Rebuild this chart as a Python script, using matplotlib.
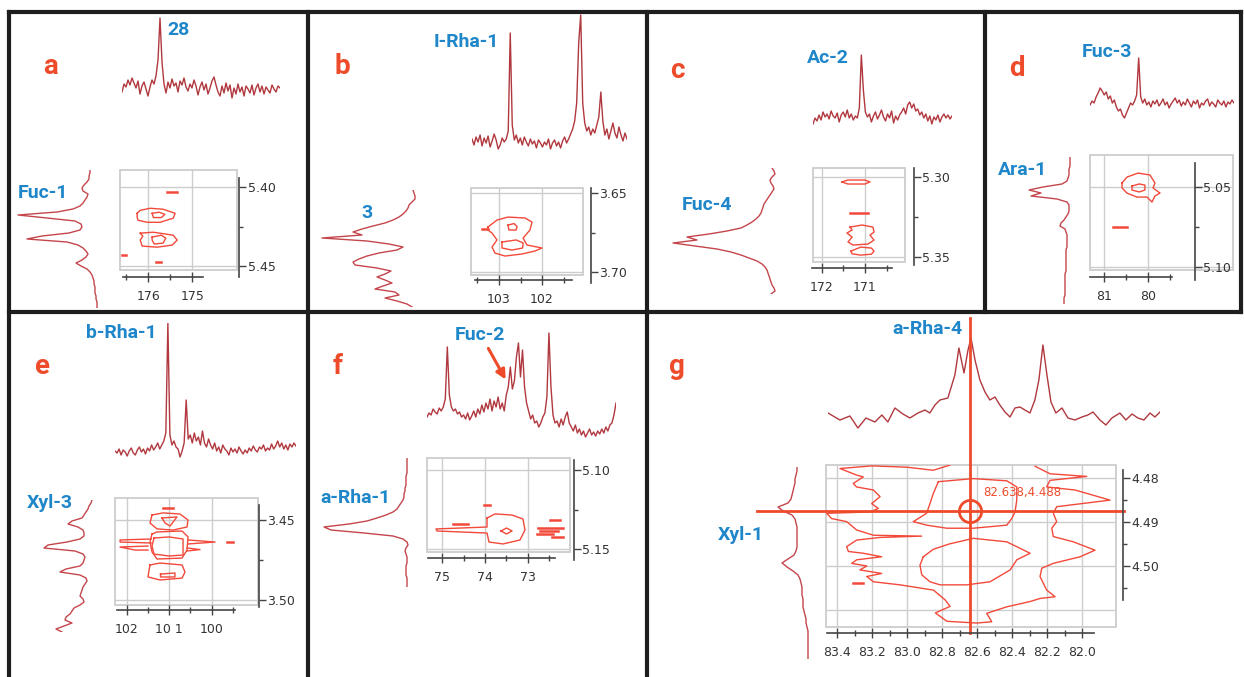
import numpy as np
import matplotlib
matplotlib.use('Agg')
import matplotlib.pyplot as plt
from matplotlib.ticker import FixedLocator, FormatStrFormatter

W, H = 1244, 677
RED = '#ee4b2b'
BLUE = '#1f87c9'
TRACE = '#b0383e'
SIDE = '#c4464c'
CONT = '#f2493a'
GRID = '#cdcdcd'
AXC = '#444444'

# ---------------- 13C projections (top traces), intensity above baseline ----------------
a_top = [-2, 6, 3, 10, 5, 12, 7, 2, 9, -4, 4, 8, 1, -6, 3, 10, 6, 14, 30, 72, 28, 6, -3, 8, 2,
         11, 4, 7, -2, 9, 5, 12, 3, -1, 6, 2, 10, 4, -5, 3, 8, 0, 6, -4, 2, 9, 13, 5, -2, -6,
         4, -3, 7, -1, 5, -8, 2, -4, 6, -2, 3, -6, 4, 1, -3, 5, -5, 2, 6, -2, 4, -4, 3, 0, -3,
         5, 1, -2, 4, 2]
b_top = [4, -2, 6, 1, 8, -3, 5, 0, 7, -4, 2, 9, 3, -6, -2, 5, 1, 4, 12, 110,
         18, 3, 8, 0, 5, -2, 6, 1, -3, 4, -1, 2, -5, 3, 0, -4, 1, -2, 4, -6, 0, 3, -3, 1, -5,
         2, 6, 0, 4, 9, 14, 22, 40, 100, 128, 40, 20, 12, 16, 8, 14, 10, 18, 26, 51,
         22, 8, 14, 4, 12, 20, 10, 5, 16, 8, 2, 10, 4]
c_top = [-4, 2, -1, 5, 0, 8, 3, 6, 1, 9, 4, 2, 7, -2, 5, 8, 3, 10, 2, 6, 0, 4, 2, 12, 65, 30,
         8, 3, 6, -2, 4, 8, 1, 5, 10, 3, -1, 6, 2, 9, -3, 4, 0, 5, 8, 12, 6, 15, 18, 12, 16, 9,
         11, 5, 8, 2, 6, -1, 4, -4, 3, 0, 5, -2, 3, 6, 2, 5, 1, 4]
d_top = [0, 4, 2, 8, 12, 17, 14, 10, 13, 6, 9, 2, 5, -2, -6, -4, -10, -13, -8, -3, 2, 0, 4, 10,
         47, 8, 2, 6, 0, 3, -2, 4, 1, 5, -1, 2, 6, 0, 3, -3, 1, 4, 7, 2, 5, -1, 3, 0, 6, 2, -2,
         4, 1, 5, -3, 2, 0, 4, 6, -1, 3, 1, -2, 5, 2, 0, 4, -2, 3, 1, 5, 2]
e_top = [2, 0, 4, -2, 3, 1, -3, 2, 5, 0, -2, 3, 6, 1, 4, -1, 5, 2, 8, 3, 6, 10, 4, 8, 12, 20,
         130, 18, 8, 12, 6, 4, -4, 2, 10, 53, 14, 18, 10, 20, 12, 16, 8, 22, 10, 6, 14, 8, 4, 10,
         2, 6, 0, 8, 4, 2, -2, 5, 1, 4, 0, 6, 2, -1, 3, 0, 5, 2, 7, 3, 1, 6, 4, 8, 2, 5, 3, 9,
         4, 7, 12, 6, 10, 4, 8, 3, 9, 6, 10, 7]
f_top = [0, 4, 2, 8, 5, 3, 9, 6, 10, 18, 70, 22, 10, 6, 8, 3, 5, 0, 2, -2, 4, -3, 1, 6, 0, 8,
         3, 12, 5, 14, 8, 18, 6, 16, 10, 20, 8, 14, 6, 22, 30, 50, 28, 36, 60, 74, 40, 67, 30, 14,
         6, -2, 2, -6, -4, -10, -6, 0, 4, 20, 84, 30, 2, -6, -4, -10, -2, -8, 0, 5, -6, -10, -14,
         -8, -16, -12, -18, -14, -20, -16, -12, -18, -15, -19, -14, -17, -12, -16, -10, -14, -8,
         -6, 2, 14]
g_top_ppm = [83.451, 83.383, 83.326, 83.280, 83.234, 83.183, 83.143, 83.109, 83.069, 83.023,
             82.983, 82.937, 82.897, 82.869, 82.840, 82.811, 82.766, 82.726, 82.703, 82.674,
             82.651, 82.634, 82.611, 82.583, 82.554, 82.526, 82.497, 82.469, 82.440, 82.411,
             82.383, 82.354, 82.326, 82.297, 82.269, 82.246, 82.223, 82.200, 82.177, 82.149,
             82.114, 82.080, 82.040, 82.000, 81.966, 81.937, 81.897, 81.863, 81.829, 81.783,
             81.749, 81.714, 81.680, 81.646, 81.611, 81.583, 81.554]
g_top_val = [2, -5, -1, -13, -3, -7, 0, -7, 7, 1, -3, 2, 5, 2, 10, 15, 17, 40, 67, 42, 65, 77,
             55, 35, 23, 15, 18, 10, 3, -2, 7, 8, 5, 2, 15, 35, 70, 40, 13, 2, 7, -3, -5, -2, 0,
             3, -5, -10, -3, 2, -5, 1, -3, -5, 2, -2, 3]

# ---------------- 1H projections (left traces), deflection to the left ----------------
a_side = [7, 7, 8, 8, 10, 13, 15, 14, 9, 10, 12, 14, 17, 24, 40, 79, 50, 22, 16, 15, 17, 28, 55,
          70, 30, 19, 14, 11, 9, 11, 15, 21, 16, 10, 7, 5, 4, 3, 3, 2, 2, 2, 1, 1, 0, 0, 0]
b_side = [4, 3, 2, 2, 5, 8, 9, 11, 14, 18, 24, 32, 44, 55, 64, 55, 95, 50, 28, 14, 20, 38, 50,
          58, 64, 62, 40, 26, 32, 40, 32, 25, 34, 42, 22, 18, 32, 20, 10, 5]
c_side = [5, 3, 2, 5, 7, 6, 4, 3, 5, 7, 9, 11, 13, 14, 15, 16, 18, 21, 25, 30, 36, 50, 68, 90,
          80, 104, 82, 60, 46, 36, 28, 20, 15, 12, 10, 9, 8, 7, 6, 5, 3, 2, 6]
d_side = [1, 1, 1, 1, 2, 2, 2, 3, 4, 9, 28, 42, 30, 40, 14, 4, 2, 2, 2, 3, 5, 7, 10, 11, 6, 5,
          4, 4, 4, 4, 4, 5, 5, 5, 5, 5, 5, 5, 5, 6, 6, 6, 6, 6, 6, 6, 6, 7, 7, 7]
e_side = [0, 1, 3, 4, 6, 8, 10, 20, 24, 14, 9, 8, 8, 12, 25, 44, 48, 17, 9, 7, 8, 9, 12, 26, 32,
          12, 6, 5, 7, 9, 10, 11, 12, 9, 8, 12, 18, 20, 22, 26, 27, 20, 28, 36, 30]
f_side = [2, 2, 2, 2, 2, 2, 3, 3, 3, 3, 4, 4, 5, 5, 6, 8, 10, 12, 16, 23, 32, 42, 60, 85, 78, 45,
          16, 6, 2, 1, 3, 4, 3, 2, 2, 2, 3, 3, 3, 3, 2, 2, 2, 2]
g_side = [13, 13, 14, 15, 15, 16, 17, 18, 19, 22, 32, 27, 18, 15, 14, 13, 13, 13, 13, 13, 13, 14,
          16, 22, 28, 23, 17, 12, 10, 9, 8, 8, 8, 7, 7, 7, 6, 5, 4, 4, 3, 2, 2, 2, 2, 2, 2, 2, 2]

# ---------------- HMBC cross-peak contours (13C ppm, 1H ppm) ----------------
a_cont = [
    [(176.25, 5.4165), (176.18, 5.4146), (175.955, 5.4133), (175.66, 5.4139), (175.386, 5.4165),
     (175.43, 5.4196), (175.73, 5.4222), (176.02, 5.4222), (176.23, 5.4209), (176.25, 5.419),
     (176.25, 5.4165)],
    [(175.91, 5.4165), (175.75, 5.4158), (175.62, 5.4172), (175.7, 5.4192), (175.88, 5.4192),
     (175.91, 5.4165)],
    [(176.18, 5.4291), (175.886, 5.4285), (175.43, 5.4304), (175.34, 5.4335), (175.455, 5.4367),
     (175.795, 5.438), (176.136, 5.4373), (176.18, 5.4335), (176.12, 5.431), (176.18, 5.4291)],
    [(175.91, 5.4316), (175.7, 5.4304), (175.6, 5.4323), (175.66, 5.4354), (175.86, 5.436),
     (175.91, 5.4335), (175.91, 5.4316)],
]
a_dash = [[(175.57, 5.4032), (175.34, 5.4032)], [(176.59, 5.443), (176.5, 5.443)],
          [(175.82, 5.4475), (175.70, 5.4475)]]

b_cont = [
    [(103.256, 3.6715), (103.047, 3.6671), (102.79, 3.6652), (102.395, 3.6658), (102.233, 3.6684),
     (102.28, 3.6734), (102.44, 3.6785), (102.35, 3.6829), (102.0, 3.6848), (102.163, 3.6867),
     (102.465, 3.6886), (102.86, 3.6899), (103.093, 3.688), (103.163, 3.6842), (103.047, 3.6797),
     (103.163, 3.6753), (103.256, 3.6734), (103.256, 3.6715)],
    [(102.79, 3.6703), (102.65, 3.6693), (102.58, 3.6712), (102.6, 3.6734), (102.77, 3.6734),
     (102.79, 3.6703)],
    [(102.93, 3.681), (102.6, 3.6797), (102.44, 3.6816), (102.45, 3.6848), (102.7, 3.6861),
     (102.93, 3.6848), (102.93, 3.681)],
]
b_dash = [[(103.395, 3.6728), (103.256, 3.6728)]]

c_cont = [
    [(171.535, 5.3031), (171.4, 5.3019), (171.0, 5.3019), (170.884, 5.3031), (171.0, 5.3044),
     (171.4, 5.3044), (171.535, 5.3031)],
    [(171.349, 5.3313), (171.07, 5.33), (170.814, 5.3313), (170.79, 5.3344), (170.884, 5.3363),
     (170.79, 5.3394), (170.93, 5.3419), (171.28, 5.3425), (171.395, 5.3406), (171.30, 5.3375),
     (171.42, 5.335), (171.30, 5.3331), (171.349, 5.3313)],
    [(171.326, 5.3463), (171.1, 5.3438), (170.85, 5.3444), (170.79, 5.3463), (170.85, 5.3482),
     (171.1, 5.3488), (171.3, 5.348), (171.326, 5.3463)],
]
c_dash = [[(171.35, 5.3225), (170.93, 5.3225)]]

d_cont = [
    [(80.591, 5.0475), (80.477, 5.0438), (80.227, 5.0413), (79.955, 5.0425), (79.841, 5.0475),
     (79.886, 5.0506), (79.727, 5.0538), (79.841, 5.0556), (79.909, 5.0594), (80.023, 5.0563),
     (80.25, 5.0563), (80.477, 5.0538), (80.591, 5.0506), (80.591, 5.0475)],
    [(80.364, 5.0494), (80.2, 5.0481), (80.07, 5.0488), (80.07, 5.0519), (80.2, 5.0531),
     (80.364, 5.0519), (80.364, 5.0494)],
]
d_dash = [[(80.795, 5.075), (80.477, 5.075)]]

e_cont = [
    [(101.4, 3.4469), (101.141, 3.4456), (100.741, 3.4463), (100.553, 3.45), (100.576, 3.4544),
     (100.906, 3.4563), (101.282, 3.4556), (101.447, 3.4519), (101.4, 3.4469)],
    [(101.165, 3.4488), (100.812, 3.4481), (100.976, 3.4538), (101.094, 3.4519), (101.165, 3.4488)],
    [(101.4, 3.4588), (101.282, 3.4575), (100.694, 3.4569), (100.553, 3.4606), (100.576, 3.4688),
     (100.694, 3.4738), (101.282, 3.4744), (101.4, 3.47), (101.447, 3.4638), (101.4, 3.4588)],
    [(101.353, 3.4613), (101.0, 3.4606), (100.67, 3.4619), (100.67, 3.4719), (101.0, 3.4725),
     (101.353, 3.4713), (101.4, 3.4663), (101.353, 3.4613)],
    [(101.42, 3.4619), (102.153, 3.4625), (102.15, 3.4638), (101.42, 3.4644)],
    [(101.494, 3.4663), (102.153, 3.4669), (101.8, 3.4688), (101.494, 3.4688)],
    [(100.553, 3.4625), (99.918, 3.4638), (100.553, 3.465)],
    [(100.576, 3.4675), (100.27, 3.4685), (100.576, 3.4694)],
    [(101.447, 3.4781), (101.212, 3.4769), (100.694, 3.4781), (100.624, 3.4825), (100.694, 3.4863),
     (101.212, 3.4875), (101.494, 3.4856), (101.47, 3.4813), (101.447, 3.4781)],
    [(101.2, 3.4838), (100.86, 3.4831), (100.86, 3.4856), (101.2, 3.4856), (101.2, 3.4838)],
]
e_dash = [[(101.141, 3.4425), (100.906, 3.4425)], [(99.635, 3.4638), (99.494, 3.4638)]]

f_cont = [
    [(73.953, 5.1304), (73.767, 5.1278), (73.372, 5.1285), (73.116, 5.131), (73.07, 5.138),
     (73.186, 5.1443), (73.581, 5.1468), (73.907, 5.1456), (73.953, 5.1399), (75.116, 5.1386),
     (75.14, 5.1373), (73.953, 5.1361), (73.953, 5.1304)],
    [(73.628, 5.1386), (73.5, 5.1367), (73.37, 5.1386), (73.5, 5.1405), (73.628, 5.1386)],
]
f_dash = [[(74.023, 5.1222), (73.884, 5.1222)], [(74.744, 5.1342), (74.395, 5.1342)],
          [(72.488, 5.1316), (72.256, 5.1316)], [(72.767, 5.1367), (72.186, 5.1367)],
          [(72.72, 5.1386), (72.30, 5.1386)], [(72.79, 5.1405), (72.419, 5.1405)],
          [(72.442, 5.1424), (72.186, 5.1424)]]

g_cont = [
    [(82.754, 4.4770), (82.85, 4.4782), (83.0, 4.4775), (83.2, 4.4772), (83.383, 4.4778),
     (83.288, 4.4793), (83.250, 4.4797), (83.307, 4.4812), (83.288, 4.4820), (83.192, 4.4827),
     (83.154, 4.4842), (83.202, 4.4858), (83.164, 4.4869), (83.211, 4.4877), (83.459, 4.4880),
     (83.431, 4.4892), (83.345, 4.4899), (83.288, 4.4918), (83.192, 4.4930), (82.916, 4.4932),
     (83.154, 4.4935), (83.288, 4.4941), (83.345, 4.4956), (83.335, 4.4967), (83.250, 4.4971),
     (83.145, 4.4979), (83.288, 4.4986), (83.316, 4.4994), (83.230, 4.5000), (83.269, 4.5009),
     (83.145, 4.5017), (83.230, 4.5024), (83.192, 4.5036), (83.040, 4.5043), (82.849, 4.5055),
     (82.783, 4.5077), (82.754, 4.5092), (82.838, 4.5107), (82.772, 4.5126), (82.602, 4.5130),
     (82.516, 4.5127), (82.545, 4.5108), (82.430, 4.5093), (82.297, 4.5081), (82.240, 4.5074),
     (82.154, 4.5070), (82.202, 4.5055), (82.240, 4.5024), (82.230, 4.5005), (82.164, 4.4994),
     (82.011, 4.4979), (81.926, 4.4964), (82.050, 4.4945), (82.164, 4.4933), (82.173, 4.4914),
     (82.145, 4.4899), (82.164, 4.4880), (82.145, 4.4865), (81.840, 4.4850), (82.040, 4.4827),
     (82.202, 4.4820), (82.183, 4.4805), (81.973, 4.4796), (82.183, 4.4790), (82.268, 4.4773)],
    [(82.821, 4.4808), (82.850, 4.4835), (82.869, 4.4858), (82.888, 4.4880), (82.964, 4.4899),
     (82.888, 4.4907), (82.773, 4.4914), (82.621, 4.4914), (82.430, 4.4907), (82.402, 4.4892),
     (82.383, 4.4877), (82.373, 4.4850), (82.373, 4.4820), (82.430, 4.4806), (82.621, 4.4801),
     (82.821, 4.4808)],
    [(82.907, 4.4979), (82.850, 4.4962), (82.760, 4.4950), (82.621, 4.4937), (82.430, 4.4945),
     (82.297, 4.4971), (82.373, 4.4986), (82.411, 4.5009), (82.526, 4.5036), (82.659, 4.5043),
     (82.811, 4.5043), (82.869, 4.5036), (82.916, 4.5020), (82.926, 4.4998), (82.907, 4.4979)],
]
g_dash = [[(83.31, 4.5038), (83.25, 4.5038)]]
g_cursor = (82.638, 4.4875)
g_cursor_text = '82.638,4.488'

panel_letters = ['a', 'b', 'c', 'd', 'e', 'f', 'g']
top_labels = ['28', 'I-Rha-1', 'Ac-2', 'Fuc-3', 'b-Rha-1', 'Fuc-2', 'a-Rha-4']
side_labels = ['Fuc-1', '3', 'Fuc-4', 'Ara-1', 'Xyl-3', 'a-Rha-1', 'Xyl-1']

fig = plt.figure(figsize=(W / 100, H / 100), dpi=100)
fig.patch.set_facecolor('white')


def rect(x0, y0, x1, y1):
    return [x0 / W, 1 - y1 / H, (x1 - x0) / W, (y1 - y0) / H]


ov = fig.add_axes([0, 0, 1, 1])
ov.set_xlim(0, W)
ov.set_ylim(H, 0)
ov.axis('off')

# panel frames
frame = dict(color='#1e1e1e', lw=3.0, solid_capstyle='projecting')
ov.plot([9, 1241], [12, 12], **frame)
ov.plot([9, 1241], [312, 312], **frame)
ov.plot([9, 9], [12, 677], **frame)
ov.plot([1241, 1241], [12, 312], **frame)
for xv in (308, 647, 985):
    ov.plot([xv, xv], [12, 312], **frame)
for xv in (308, 647):
    ov.plot([xv, xv], [312, 677], **frame)

letter_pos = [(50, 67), (342, 67), (677, 70), (1017, 68), (42, 367), (338, 366), (677, 366)]
for s, (x, y) in zip(panel_letters, letter_pos):
    ov.text(x, y, s, color=RED, fontsize=20, fontweight='bold', family='Roboto',
            ha='center', va='center')

top_pos = [(167, 30), (434, 42), (807, 58), (1082, 52), (86, 333), (455, 335), (892, 329)]
side_pos = [(18, 193), (361, 213), (682, 205), (998, 170), (27, 503), (320, 498), (718, 535)]
for s, (x, y) in zip(top_labels + side_labels, top_pos + side_pos):
    ov.text(x, y, s, color=BLUE, fontsize=14, fontweight='bold', family='Roboto',
            ha='left', va='center')

ov.annotate('', xy=(507, 382), xytext=(487, 346),
            arrowprops=dict(arrowstyle='-|>', color=RED, lw=2.2, mutation_scale=14))


def top_trace(x0, x1, ybase, vals):
    ax = fig.add_axes(rect(x0, ybase - 130, x1, ybase + 30))
    ax.plot(np.arange(len(vals)), vals, color=TRACE, lw=1.0)
    ax.set_xlim(0, len(vals) - 1)
    ax.set_ylim(-30, 130)
    ax.axis('off')


def side_trace(xbase, y0, y1, vals):
    ax = fig.add_axes(rect(xbase - 120, y0, xbase + 10, y1))
    n = len(vals)
    ax.plot(vals, np.arange(n), color=SIDE, lw=1.0)
    ax.set_xlim(120, -10)
    ax.set_ylim(n - 1, 0)
    ax.axis('off')


def contour_box(box, xlim, ylim, xmaj, xmin_, ymaj, ymin_, sx, ybnd, sy, xbnd,
                xfmt='%g', yfmt='%.2f', xlabels=None):
    ax = fig.add_axes(rect(*box))
    ax.set_xlim(*xlim)
    ax.set_ylim(*ylim)
    ax.patch.set_facecolor('none')
    ax.patch.set_edgecolor(GRID)
    ax.patch.set_linewidth(1.3)
    ax.spines['top'].set_visible(False)
    ax.spines['left'].set_visible(False)
    ax.spines['right'].set_position(('data', sx))
    ax.spines['right'].set_bounds(*ybnd)
    ax.spines['bottom'].set_position(('data', sy))
    ax.spines['bottom'].set_bounds(*xbnd)
    for s in ('right', 'bottom'):
        ax.spines[s].set_color(AXC)
        ax.spines[s].set_linewidth(1.2)
    ax.yaxis.tick_right()
    ax.xaxis.set_major_locator(FixedLocator(xmaj))
    ax.xaxis.set_minor_locator(FixedLocator(xmin_))
    ax.yaxis.set_major_locator(FixedLocator(ymaj))
    ax.yaxis.set_minor_locator(FixedLocator(ymin_))
    ax.xaxis.set_major_formatter(FormatStrFormatter(xfmt))
    ax.yaxis.set_major_formatter(FormatStrFormatter(yfmt))
    if xlabels is not None:
        ax.set_xticklabels(xlabels)
    ax.tick_params(axis='y', which='major', direction='out', length=5, width=1,
                   colors=AXC, labelsize=9, pad=1, labelcolor='#333333')
    ax.tick_params(axis='y', which='minor', direction='out', length=3, width=1, colors=AXC)
    ax.tick_params(axis='x', which='major', direction='inout', length=7, width=1,
                   colors=AXC, labelsize=9, pad=6, labelcolor='#333333')
    ax.tick_params(axis='x', which='minor', direction='inout', length=5, width=1, colors=AXC)
    ax.grid(True, which='major', color=GRID, lw=1.0)
    ax.set_axisbelow(True)
    return ax


def draw_contours(ax, shapes, dashes):
    for s in shapes:
        arr = np.array(s)
        ax.plot(arr[:, 0], arr[:, 1], color=CONT, lw=1.0)
    for s in dashes:
        arr = np.array(s)
        ax.plot(arr[:, 0], arr[:, 1], color=CONT, lw=1.8)


# ---- a ----
top_trace(122, 280, 90, a_top)
side_trace(97, 170, 308, a_side)
ax = contour_box((120, 170, 237, 270), (176.64, 173.98), (5.4525, 5.389),
                 [176, 175], [176.5, 175.5], [5.40, 5.45], [5.425],
                 173.93, (5.3943, 5.457), 5.457, (176.57, 174.75))
draw_contours(ax, a_cont, a_dash)

# ---- b ----
top_trace(472, 627, 143, b_top)
side_trace(417, 190, 307, b_side)
ax = contour_box((471, 188, 583, 275), (103.651, 101.047), (3.7019, 3.6468),
                 [103, 102], [103.5, 102.5, 101.5], [3.65, 3.70], [3.675],
                 100.86, (3.6468, 3.707), 3.705, (103.56, 101.30))
draw_contours(ax, b_cont, b_dash)

# ---- c ----
top_trace(813, 952, 120, c_top)
side_trace(777, 168, 294, c_side)
ax = contour_box((813, 168, 905, 262), (172.209, 170.07), (5.3531, 5.2944),
                 [172, 171], [171.5, 170.5], [5.30, 5.35], [5.325],
                 169.86, (5.2944, 5.355), 5.3569, (172.23, 170.37))
draw_contours(ax, c_cont, c_dash)

# ---- d ----
top_trace(1090, 1234, 105, d_top)
side_trace(1071, 157, 304, d_side)
ax = contour_box((1090, 155, 1233, 270), (81.318, 78.068), (5.1019, 5.03),
                 [81, 80], [80.5, 79.5], [5.05, 5.10], [5.075],
                 78.932, (5.035, 5.1081), 5.1063, (81.318, 79.455))
draw_contours(ax, d_cont, d_dash)

# ---- e ----
top_trace(115, 296, 453, e_top)
side_trace(92, 500, 632, e_side)
ax = contour_box((115, 498, 258, 605), (102.271, 98.906), (3.5031, 3.4363),
                 [102, 101, 100], [101.5, 100.5, 99.5], [3.45, 3.50], [3.475],
                 98.882, (3.4406, 3.5044), 3.5063, (102.22, 99.45),
                 xlabels=['102', '10 1', '100'])
draw_contours(ax, e_cont, e_dash)

# ---- f ----
top_trace(427, 616, 417, f_top)
side_trace(409, 458, 587, f_side)
ax = contour_box((427, 458, 570, 552), (75.349, 72.023), (5.1519, 5.0924),
                 [75, 74, 73], [74.5, 73.5, 72.5], [5.10, 5.15], [5.125],
                 71.93, (5.0937, 5.157), 5.1557, (75.326, 72.372))
draw_contours(ax, f_cont, f_dash)

# ---- g ----
axg_top = fig.add_axes(rect(828, 415 - 130, 1160, 445))
axg_top.plot(g_top_ppm, g_top_val, color=TRACE, lw=1.0)
axg_top.set_xlim(83.451, 81.554)
axg_top.set_ylim(-30, 130)
axg_top.axis('off')
side_trace(810, 467, 659, g_side)
ax = contour_box((826, 465, 1116, 627), (83.463, 81.806), (4.5139, 4.477),
                 [83.4, 83.2, 83.0, 82.8, 82.6, 82.4, 82.2, 82.0],
                 [83.3, 83.1, 82.9, 82.7, 82.5, 82.3, 82.1],
                 [4.48, 4.49, 4.50], [4.485, 4.495, 4.505],
                 81.766, (4.4782, 4.5077), 4.5152, (83.457, 81.931), xfmt='%.1f')
ax.axhline(4.51, color=GRID, lw=1.0, zorder=0.5)
draw_contours(ax, g_cont, g_dash)
cx, cy = g_cursor
ax.plot([cx, cx], [4.4436, 4.5152], color=RED, lw=2.0, clip_on=False)
ax.plot([83.857, 81.76], [cy, cy], color=RED, lw=2.0, clip_on=False)
ax.plot([cx], [cy], marker='o', ms=16, mfc='none', mec=RED, mew=2.0, clip_on=False)
ax.text(82.566, 4.4832, g_cursor_text, color=RED, fontsize=8.5, ha='left', va='center')

fig.savefig('out.png', dpi=100)
